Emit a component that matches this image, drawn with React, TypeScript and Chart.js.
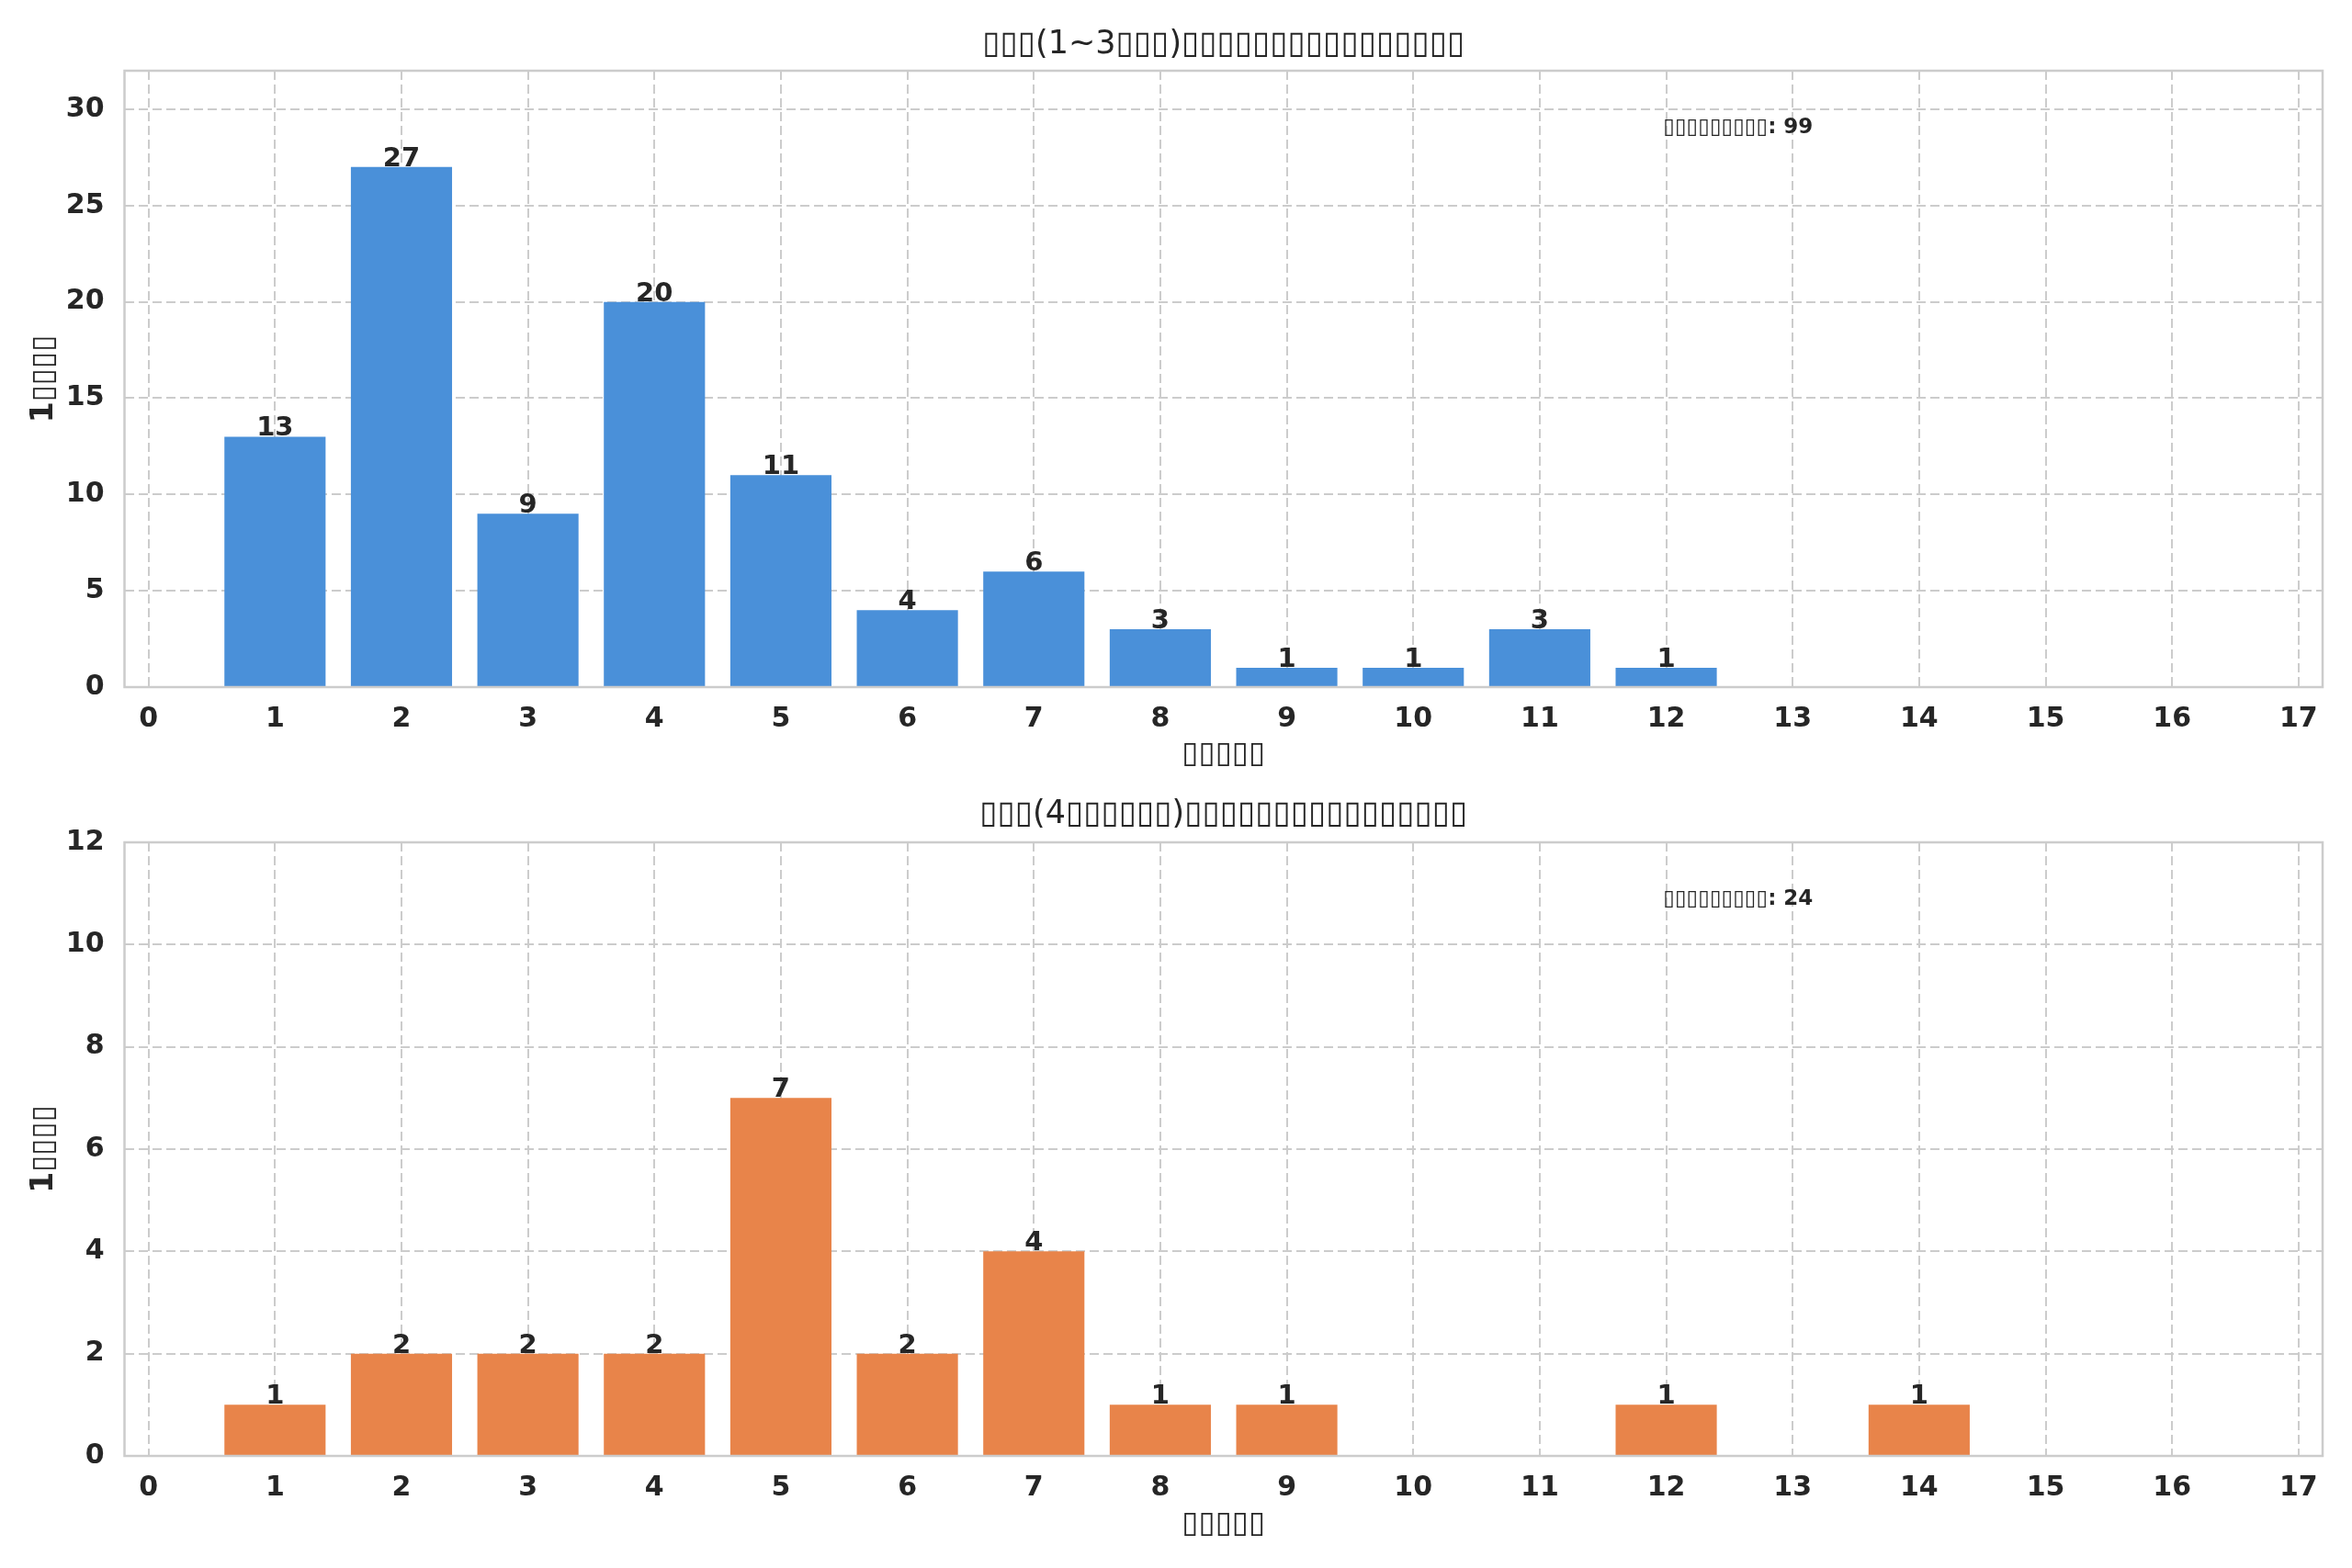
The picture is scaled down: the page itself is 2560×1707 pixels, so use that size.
import React, { useEffect, useRef } from "react";
import { Chart, registerables } from "chart.js";

Chart.register(...registerables);

// Missing-glyph boxes as they appear in the reference
const BOX = "\u25AF";

const xTickValues = [0, 1, 2, 3, 4, 5, 6, 7, 8, 9, 10, 11, 12, 13, 14, 15, 16, 17];

const topPositions = [1, 2, 3, 4, 5, 6, 7, 8, 9, 10, 11, 12];
const topCounts = [13, 27, 9, 20, 11, 4, 6, 3, 1, 1, 3, 1];

const bottomPositions = [1, 2, 3, 4, 5, 6, 7, 8, 9, 10, 11, 12, 13, 14];
const bottomCounts = [1, 2, 2, 2, 7, 2, 4, 1, 1, 0, 0, 1, 0, 1];

const topTitle = BOX.repeat(3) + "(1~3" + BOX.repeat(3) + ")" + BOX.repeat(16);
const bottomTitle = BOX.repeat(3) + "(4" + BOX.repeat(6) + ")" + BOX.repeat(16);
const xAxisLabel = BOX.repeat(5);
const yAxisLabel = "1" + BOX.repeat(4);
const totalLabel = BOX.repeat(9);

const TEXT = "#262626";
const FONT = '"DejaVu Sans"';

const barLabelPlugin = {
  id: "barLabels",
  afterDatasetsDraw(chart: any) {
    const ctx = chart.ctx;
    chart.getSortedVisibleDatasetMetas().forEach((meta: any) => {
      const ds = chart.data.datasets[meta.index];
      meta.data.forEach((el: any, i: number) => {
        const v = ds.data[i].y;
        ctx.save();
        ctx.font = `bold 29px ${FONT}`;
        ctx.fillStyle = TEXT;
        ctx.textAlign = "center";
        ctx.textBaseline = "alphabetic";
        ctx.fillText(String(v), el.x, el.y - 1);
        ctx.restore();
      });
    });
  },
};

const framePlugin = {
  id: "frame",
  afterDatasetsDraw(chart: any) {
    const { ctx, chartArea } = chart;
    ctx.save();
    ctx.strokeStyle = "#cccccc";
    ctx.lineWidth = 2.5;
    ctx.strokeRect(chartArea.left, chartArea.top, chartArea.right - chartArea.left, chartArea.bottom - chartArea.top);
    ctx.restore();
  },
};

const totalPlugin = {
  id: "total",
  afterDraw(chart: any, _args: any, opts: any) {
    const { ctx, chartArea } = chart;
    const w = chartArea.right - chartArea.left;
    const h = chartArea.bottom - chartArea.top;
    const x = chartArea.left + 0.7 * w;
    const y = chartArea.top + 0.093 * h;
    ctx.save();
    ctx.fillStyle = TEXT;
    ctx.textAlign = "left";
    ctx.textBaseline = "middle";
    ctx.font = `bold 23px ${FONT}`;
    ctx.fillText(opts.text, x, y);
    ctx.restore();
  },
};

function makeConfig(p: any): any {
  const data = p.positions
    .map((x: number, i: number) => ({ x, y: p.counts[i] }))
    .filter((d: any) => d.y > 0);
  const total = p.counts.reduce((a: number, b: number) => a + b, 0);
  return {
    type: "bar",
    data: {
      datasets: [
        {
          data,
          backgroundColor: p.color,
          borderWidth: 0,
          barPercentage: 0.8,
          categoryPercentage: 1.0,
        },
      ],
    },
    plugins: [framePlugin, barLabelPlugin, totalPlugin],
    options: {
      responsive: false,
      animation: false,
      devicePixelRatio: 1,
      layout: { padding: { left: 0, right: 2560 - 2528, top: 0, bottom: 0 } },
      plugins: {
        legend: { display: false },
        tooltip: { enabled: false },
        title: {
          display: true,
          text: p.title,
          fullSize: false,
          color: TEXT,
          font: { family: FONT, size: 35, weight: "normal", lineHeight: 1.2 },
          padding: p.titlePad,
        },
        total: { text: totalLabel + ": " + total },
      },
      scales: {
        x: {
          type: "linear",
          min: -0.19,
          max: 17.19,
          offset: false,
          afterBuildTicks(scale: any) {
            scale.ticks = xTickValues.map((v) => ({ value: v }));
          },
          afterFit(scale: any) {
            scale.height = p.xHeight;
          },
          ticks: {
            color: TEXT,
            font: { family: FONT, size: 30, weight: "bold" },
            padding: p.xTickPad,
            maxRotation: 0,
            autoSkip: false,
          },
          grid: { color: "#cccccc", lineWidth: 2, drawTicks: false, offset: false },
          border: { display: false, dash: [10, 5] },
          title: {
            display: true,
            text: xAxisLabel,
            color: TEXT,
            font: { family: FONT, size: 33, weight: "bold" },
            padding: { top: 0, bottom: p.xTitlePadBottom },
          },
        },
        y: {
          type: "linear",
          min: 0,
          max: p.yMax,
          afterFit(scale: any) {
            scale.width = 135.5;
          },
          ticks: {
            stepSize: p.yStep,
            includeBounds: false,
            color: TEXT,
            font: { family: FONT, size: 30, weight: "bold" },
            padding: 22,
          },
          grid: { color: "#cccccc", lineWidth: 2, drawTicks: false },
          border: { display: false, dash: [10, 5] },
          title: {
            display: true,
            text: yAxisLabel,
            color: TEXT,
            font: { family: FONT, size: 33, weight: "bold" },
            padding: { top: 29, bottom: 0 },
          },
        },
      },
    },
  };
}

function ChartCanvas(props: { config: any; top: number; height: number }) {
  const ref = useRef<HTMLCanvasElement>(null);
  useEffect(() => {
    if (!ref.current) return;
    const chart = new Chart(ref.current, props.config);
    return () => chart.destroy();
  }, []);
  return (
    <canvas
      ref={ref}
      width={2560}
      height={props.height}
      style={{ position: "absolute", left: 0, top: props.top, width: 2560, height: props.height, display: "block" }}
    />
  );
}

export default function App() {
  const topConfig = makeConfig({
    positions: topPositions,
    counts: topCounts,
    color: "#4a90d9",
    title: topTitle,
    yMax: 32,
    yStep: 5,
    titlePad: { top: 27.5, bottom: 7.5 },
    xHeight: 105,
    xTickPad: 17.5,
    xTitlePadBottom: 12,
  });
  const bottomConfig = makeConfig({
    positions: bottomPositions,
    counts: bottomCounts,
    color: "#e8844a",
    title: bottomTitle,
    yMax: 12,
    yStep: 2,
    titlePad: { top: 12.5, bottom: 9.5 },
    xHeight: 122,
    xTickPad: 17,
    xTitlePadBottom: 28,
  });
  return (
    <div style={{ position: "fixed", left: 0, top: 0, width: 2560, height: 1707, background: "#fff" }}>
      <ChartCanvas config={topConfig} top={0} height={853} />
      <ChartCanvas config={bottomConfig} top={853} height={854} />
    </div>
  );
}
